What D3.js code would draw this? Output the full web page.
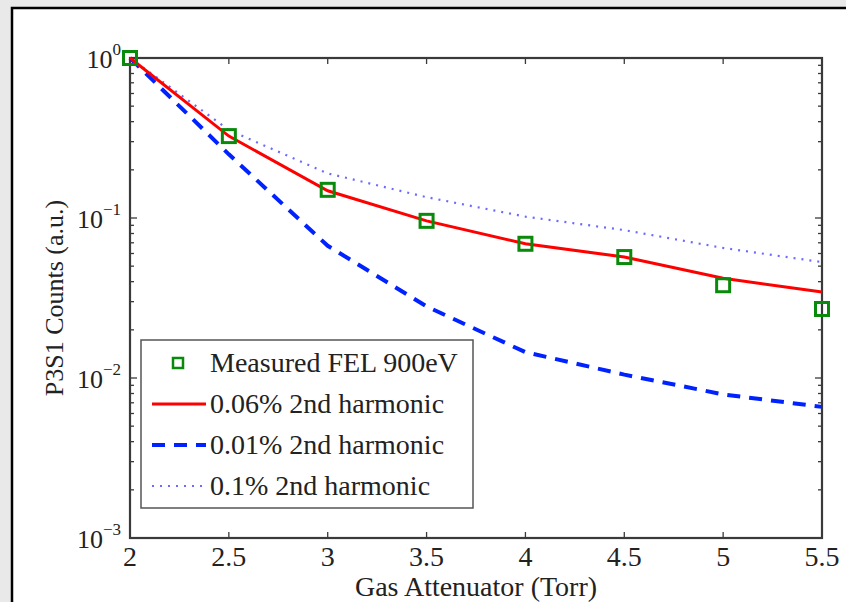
<!DOCTYPE html>
<html>
<head>
<meta charset="utf-8">
<script src="https://cdn.jsdelivr.net/npm/d3@7"></script>
<style>
  body { margin: 0; background: #e9e9e9; }
  svg { display: block; }
  text { font-family: "Liberation Serif", "DejaVu Serif", serif; fill: #222; }
</style>
</head>
<body>
<script>
// gas pressure (Torr)
var pressure = [2, 2.5, 3, 3.5, 4, 4.5, 5, 5.5];
// measured FEL 900eV
var measured = [1.0, 0.325, 0.150, 0.096, 0.069, 0.057, 0.038, 0.027];
// model curves for different 2nd harmonic content
var harm006 = [1.0, 0.325, 0.148, 0.096, 0.069, 0.057, 0.042, 0.0345];
var harm001 = [1.0, 0.25, 0.067, 0.028, 0.0145, 0.0105, 0.0079, 0.0066];
var harm01 = [1.0, 0.355, 0.19, 0.135, 0.102, 0.084, 0.065, 0.053];

var xTicks = [2, 2.5, 3, 3.5, 4, 4.5, 5, 5.5];
var yDecades = [0, -1, -2, -3];
var legendLabels = ["Measured FEL 900eV", "0.06% 2nd harmonic", "0.01% 2nd harmonic", "0.1% 2nd harmonic"];

var w = 846, h = 602;
// plot box (window.top is reserved, so use other names)
var pL = 130, pR = 822, pT = 58, pB = 538;

var svg = d3.select("body").append("svg")
  .attr("width", w)
  .attr("height", h);

// figure panel
svg.append("rect")
  .attr("x", 12).attr("y", 8)
  .attr("width", w + 20).attr("height", h + 20)
  .attr("fill", "white")
  .attr("stroke", "black")
  .attr("stroke-width", 2.5);

var x = d3.scaleLinear().domain([2, 5.5]).range([pL, pR]);
var y = d3.scaleLog().domain([1e-3, 1]).range([pB, pT]);

// minor log ticks
var minor = [];
for (var e = -3; e < 0; e++) {
  for (var k = 1; k < 10; k++) minor.push(k * Math.pow(10, e));
}
minor.push(1);

function isDecade(d) {
  var l = Math.log10(d);
  return Math.abs(l - Math.round(l)) < 1e-9;
}

var axisColor = "#3a3a3a";
var g = svg.append("g");

g.selectAll(".ytl").data(minor).enter().append("line")
  .attr("x1", pL).attr("x2", function(d) { return pL + (isDecade(d) ? 7 : 4); })
  .attr("y1", function(d) { return y(d); }).attr("y2", function(d) { return y(d); })
  .attr("stroke", axisColor).attr("stroke-width", 1.3);
g.selectAll(".ytr").data(minor).enter().append("line")
  .attr("x1", pR).attr("x2", function(d) { return pR - (isDecade(d) ? 7 : 4); })
  .attr("y1", function(d) { return y(d); }).attr("y2", function(d) { return y(d); })
  .attr("stroke", axisColor).attr("stroke-width", 1.3);

g.selectAll(".xtb").data(xTicks).enter().append("line")
  .attr("x1", function(d) { return x(d); }).attr("x2", function(d) { return x(d); })
  .attr("y1", pB).attr("y2", pB - 6)
  .attr("stroke", axisColor).attr("stroke-width", 1.3);
g.selectAll(".xtt").data(xTicks).enter().append("line")
  .attr("x1", function(d) { return x(d); }).attr("x2", function(d) { return x(d); })
  .attr("y1", pT).attr("y2", pT + 6)
  .attr("stroke", axisColor).attr("stroke-width", 1.3);

// axes box
g.append("rect")
  .attr("x", pL).attr("y", pT)
  .attr("width", pR - pL).attr("height", pB - pT)
  .attr("fill", "none")
  .attr("stroke", axisColor)
  .attr("stroke-width", 2.2);

// tick labels
svg.selectAll(".xl").data(xTicks).enter().append("text")
  .attr("x", function(d) { return x(d); })
  .attr("y", 566)
  .attr("text-anchor", "middle")
  .attr("font-size", "28px")
  .text(function(d) { return d; });

var yl = svg.selectAll(".yl").data(yDecades).enter().append("text")
  .attr("x", 121)
  .attr("y", function(d) { return y(Math.pow(10, d)) + 10; })
  .attr("text-anchor", "end")
  .attr("font-size", "26px");
yl.append("tspan").text("10");
yl.append("tspan")
  .attr("dy", -13)
  .attr("font-size", "17px")
  .text(function(d) { return d === 0 ? "0" : "\u2212" + (-d); });

// axis titles
svg.append("text")
  .attr("x", (pL + pR) / 2)
  .attr("y", 596)
  .attr("text-anchor", "middle")
  .attr("font-size", "28px")
  .text("Gas Attenuator (Torr)");

svg.append("text")
  .attr("transform", "translate(63," + ((pT + pB) / 2) + ") rotate(-90)")
  .attr("text-anchor", "middle")
  .attr("font-size", "26px")
  .text("P3S1 Counts (a.u.)");

// lines
var line = d3.line()
  .x(function(d, i) { return x(pressure[i]); })
  .y(function(d) { return y(d); });

var plot = svg.append("g");

plot.append("path").datum(harm01)
  .attr("d", line).attr("fill", "none")
  .attr("stroke", "#6b6bff").attr("stroke-width", 2.2)
  .attr("stroke-dasharray", "2,6");

plot.append("path").datum(harm001)
  .attr("d", line).attr("fill", "none")
  .attr("stroke", "#0022ff").attr("stroke-width", 4)
  .attr("stroke-dasharray", "13,9");

plot.append("path").datum(harm006)
  .attr("d", line).attr("fill", "none")
  .attr("stroke", "#ff0000").attr("stroke-width", 3);

var sq = 13;
plot.selectAll(".pt").data(measured).enter().append("rect")
  .attr("x", function(d, i) { return x(pressure[i]) - sq / 2; })
  .attr("y", function(d) { return y(d) - sq / 2; })
  .attr("width", sq).attr("height", sq)
  .attr("fill", "none")
  .attr("stroke", "#0a8a0a")
  .attr("stroke-width", 3);

// legend
var lg = svg.append("g");
lg.append("rect")
  .attr("x", 141).attr("y", 340)
  .attr("width", 332).attr("height", 168)
  .attr("fill", "white")
  .attr("stroke", "#555")
  .attr("stroke-width", 1.5);

var rowY = [363, 404, 445, 486];
lg.selectAll(".lt").data(legendLabels).enter().append("text")
  .attr("x", 210)
  .attr("y", function(d, i) { return rowY[i] + 9; })
  .attr("font-size", "28px")
  .text(function(d) { return d; });

lg.append("rect")
  .attr("x", 178 - 5).attr("y", rowY[0] - 5)
  .attr("width", 10).attr("height", 10)
  .attr("fill", "none").attr("stroke", "#0a8a0a").attr("stroke-width", 2.5);
lg.append("line")
  .attr("x1", 152).attr("x2", 206).attr("y1", rowY[1]).attr("y2", rowY[1])
  .attr("stroke", "#ff0000").attr("stroke-width", 3);
lg.append("line")
  .attr("x1", 152).attr("x2", 206).attr("y1", rowY[2]).attr("y2", rowY[2])
  .attr("stroke", "#0022ff").attr("stroke-width", 4).attr("stroke-dasharray", "13,9");
lg.append("line")
  .attr("x1", 152).attr("x2", 206).attr("y1", rowY[3]).attr("y2", rowY[3])
  .attr("stroke", "#6b6bff").attr("stroke-width", 2.2).attr("stroke-dasharray", "2,6");
</script>
</body>
</html>
